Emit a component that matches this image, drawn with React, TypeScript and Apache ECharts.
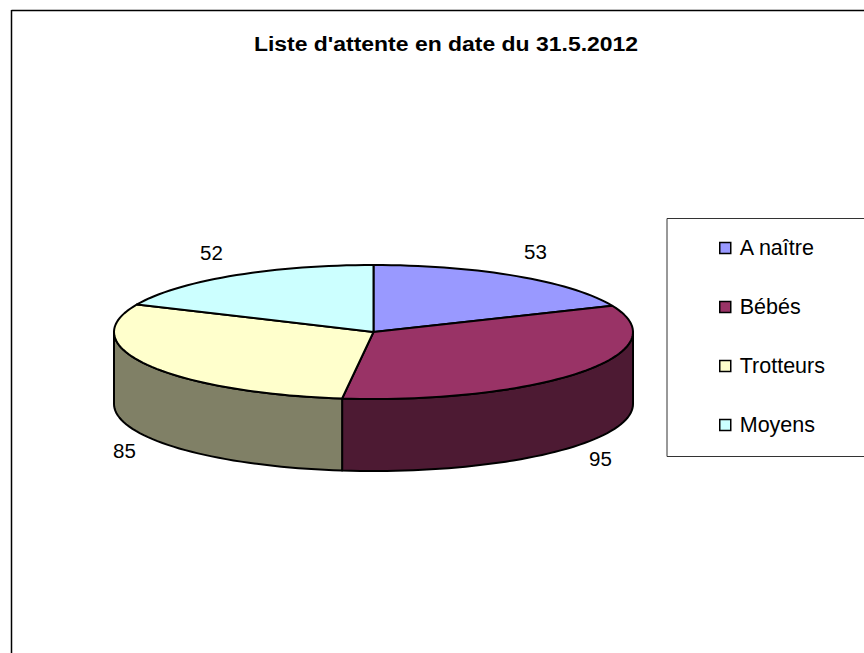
import React, { useEffect, useRef } from "react";
import * as echarts from "echarts";

const titleText = "Liste d'attente en date du 31.5.2012";
const categories = ["A naître", "Bébés", "Trotteurs", "Moyens"];
const values = [53, 95, 85, 52];
const topColors = ["#9999FF", "#993366", "#FFFFCC", "#CCFFFF"];
const sideColors = ["#4D4D80", "#4D1A33", "#808066", "#668080"];

const FONT = "'Liberation Sans', Arial, sans-serif";
const CX = 373.5, CY = 332, RX = 259.5, RY = 67, DEPTH = 72;
const labelOffsets = [[162, -81], [227, 126], [-249, 118], [-162, -80]];

const total = values.reduce((a, b) => a + b, 0);
const startOf = (i: number) => values.slice(0, i).reduce((a, b) => a + b, 0) / total * 360;
const pt = (deg: number, dy = 0): number[] => {
  const r = deg * Math.PI / 180;
  return [CX + RX * Math.sin(r), CY - RY * Math.cos(r) + dy];
};
const arc = (a: number, b: number, dy = 0) => {
  const out: number[][] = [];
  const n = Math.max(2, Math.ceil((b - a) / 2));
  for (let k = 0; k <= n; k++) out.push(pt(a + (b - a) * k / n, dy));
  return out;
};

const makeSeries = (i: number) => ({
  type: "custom",
  name: categories[i],
  coordinateSystem: "none",
  silent: true,
  itemStyle: { color: topColors[i] },
  data: [[values[i]]],
  renderItem: () => {
    const a = startOf(i);
    const b = a + values[i] / total * 360;
    const children: any[] = [];
    const sa = Math.max(a, 90), sb = Math.min(b, 270);
    if (sb > sa) {
      children.push({
        type: "polygon",
        shape: { points: [...arc(sa, sb), ...arc(sa, sb, DEPTH).reverse()] },
        style: { fill: sideColors[i], stroke: "#000", lineWidth: 2, lineJoin: "round" },
      });
    }
    children.push({
      type: "polygon",
      z2: 5,
      shape: { points: [[CX, CY], ...arc(a, b)] },
      style: { fill: topColors[i], stroke: "#000", lineWidth: 2, lineJoin: "round" },
    });
    children.push({
      type: "text",
      z2: 6,
      x: CX + labelOffsets[i][0],
      y: CY + labelOffsets[i][1],
      style: {
        text: String(values[i]),
        fill: "#000",
        font: `20.5px ${FONT}`,
        align: "center",
        verticalAlign: "middle",
      },
    });
    return { type: "group", children };
  },
});

export default function App() {
  const ref = useRef<HTMLDivElement>(null);
  useEffect(() => {
    const chart = echarts.init(ref.current!, undefined, { renderer: "svg" });
    chart.setOption({
      animation: false,
      backgroundColor: "#fff",
      legend: {
        orient: "vertical",
        left: 719,
        top: 237,
        padding: 0,
        itemWidth: 11,
        itemHeight: 11,
        itemGap: 37,
        icon: "rect",
        itemStyle: { borderColor: "#000", borderWidth: 1.5 },
        textStyle: { fontFamily: FONT, fontSize: 21.5, color: "#000", padding: [0, 0, 0, 4], lineHeight: 22 },
        data: categories,
      },
      graphic: [
        { type: "line", shape: { x1: 11.5, y1: 10.5, x2: 864, y2: 10.5 }, style: { stroke: "#000", lineWidth: 1.5 } },
        { type: "line", shape: { x1: 11.5, y1: 10, x2: 11.5, y2: 653 }, style: { stroke: "#000", lineWidth: 1.5 } },
        { type: "polyline", shape: { points: [[864, 218.5], [667, 218.5], [667, 456.5], [864, 456.5]] }, style: { stroke: "#333", lineWidth: 1, fill: "none" } },
        {
          type: "text",
          x: 446,
          y: 44,
          scaleX: 1.12,
          style: {
            text: titleText,
            fill: "#000",
            font: `bold 20.5px ${FONT}`,
            align: "center",
            verticalAlign: "middle",
          },
        },
      ],
      series: categories.map((_, i) => makeSeries(i)),
    });
    return () => chart.dispose();
  }, []);
  return <div ref={ref} style={{ position: "absolute", left: 0, top: 0, width: 864, height: 653 }} />;
}
